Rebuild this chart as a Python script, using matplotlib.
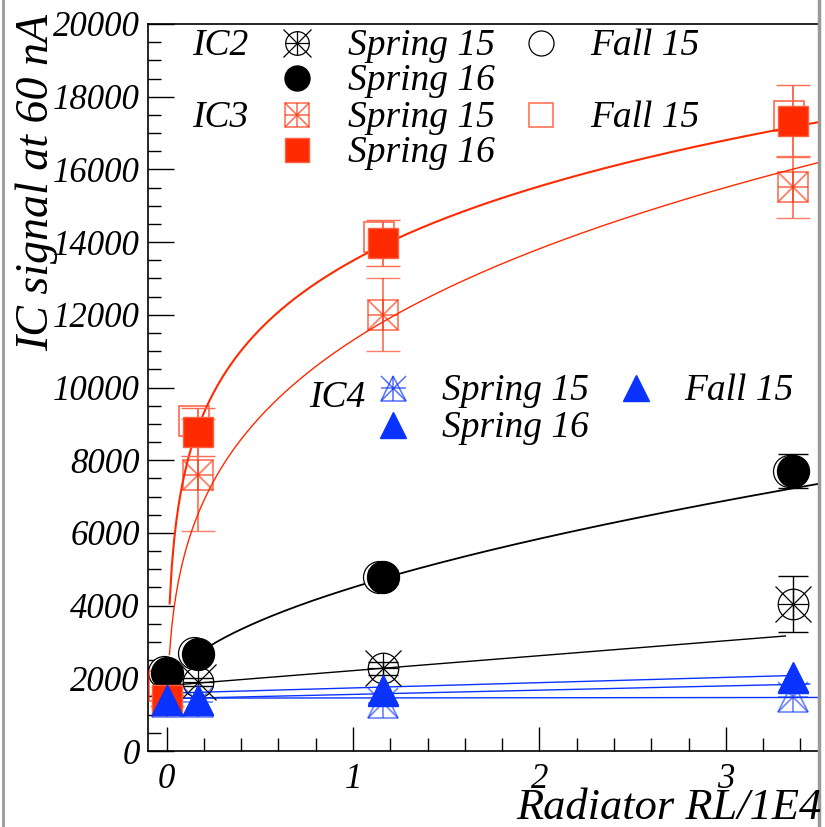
import matplotlib
matplotlib.use("Agg")
import matplotlib.pyplot as plt
import numpy as np
from matplotlib.ticker import MultipleLocator

plt.rcParams['font.family'] = ['Liberation Serif', 'DejaVu Serif']
plt.rcParams['font.style'] = 'italic'

RED = '#ff2a00'
BLUE = '#0a33ff'

# radiator positions (RL/1E4)
x_pts = [0.0, 0.166, 1.16, 3.36]
x_fall = [-0.015, 0.145, 1.14, 3.34]
x_s15 = [0.166, 1.16, 3.36]

# IC2
ic2_s15 = [1900, 2280, 4045]
ic2_s15_err = [120, 180, 780]
ic2_s16 = [2145, 2670, 4790, 7700]
ic2_s16_err = [100, 120, 200, 470]
ic2_f15 = [2170, 2700, 4800, 7700]

# IC3
ic3_s15 = [7590, 12000, 15515]
ic3_s15_err = [1550, 1000, 850]
ic3_s16 = [1400, 8775, 13975, 17330]
ic3_s16_err = [150, 650, 630, 1000]
ic3_f15 = [1790, 9080, 14140, 17470]

# IC4
ic4_s15 = [1350, 1350, 1320, 1485]
ic4_f15 = [1400, 1400, 1650, 2000]
ic4_s16 = [1400, 1400, 1680, 2035]

# fit curves  y = a + b*x^c  on [x0, x1]
fits = [
    # a, b, c, x0, x1, color, lw
    (-12310, 25800, 0.11, 0.016, 3.5, RED, 1.5),
    (-2000, 13300, 0.25, 0.015, 3.5, RED, 1.0),
    (1550, 2950, 0.54, 0.166, 3.5, 'black', 1.3),
    (1800, 411, 1.0, 0.0, 3.32, 'black', 1.0),
    (1590, 145, 1.0, 0.0, 3.36, BLUE, 1.0),
    (1440, 117, 1.0, 0.0, 3.45, BLUE, 1.0),
    (1455, 5, 1.0, 0.0, 3.5, BLUE, 1.0),
]

W, H = 825, 827
fig = plt.figure(figsize=(W / 100, H / 100), dpi=100)
ax = fig.add_axes([148 / W, 1 - 751 / H, (819 - 148) / W, (751 - 24) / H])
ax.set_xlim(-0.1, 3.5)
ax.set_ylim(0, 20000)


def asterisk(ax_, x, y, base, color, size, alpha=1.0, mew=0.9, spoke=1.0, z=3):
    kw = dict(linestyle='none', color=color, alpha=alpha, mew=mew, zorder=z)
    ax_.plot(x, y, marker=base, ms=size, mfc='none', mec=color, **kw)
    ax_.plot(x, y, marker='+', ms=size, **kw)
    ax_.plot(x, y, marker='x', ms=size * spoke, **kw)


# fit lines
for a, b, c, x0, x1, col, lw in fits:
    xx = np.linspace(x0, x1, 300)
    ax.plot(xx, a + b * xx ** c, color=col, lw=lw, zorder=2)

# IC2
ax.plot(x_fall, ic2_f15, 'o', ms=23, mfc='white', mec='black', mew=0.9, zorder=3)
ax.errorbar(x_s15, ic2_s15, yerr=ic2_s15_err, fmt='none', ecolor='black',
            elinewidth=1, capsize=11, zorder=3)
asterisk(ax, x_s15, ic2_s15, 'o', 'black', 22, spoke=1.15)
ax.errorbar(x_pts, ic2_s16, yerr=ic2_s16_err, fmt='o', color='black', ms=23,
            elinewidth=1, capsize=11, zorder=4)

# IC3
ax.plot(x_fall, ic3_f15, 's', ms=21, mfc='none', mec=RED, mew=1.2, alpha=0.7, zorder=3)
ax.errorbar(x_s15, ic3_s15, yerr=ic3_s15_err, fmt='none', ecolor=RED, alpha=0.6,
            elinewidth=1.4, capsize=12, zorder=3)
asterisk(ax, x_s15, ic3_s15, 's', RED, 21, alpha=0.6, mew=1.3)
ax.errorbar(x_pts, ic3_s16, yerr=ic3_s16_err, fmt='s', color=RED, ms=21,
            mec='#ff6040', mew=1, elinewidth=1.4, capsize=12, ecolor='#ff6a50', zorder=4)

# IC4
asterisk(ax, x_pts, ic4_s15, '^', BLUE, 21, alpha=0.6, mew=1.2, z=4)
ax.plot(x_pts, ic4_f15, '^', ms=22, color=BLUE, mec=BLUE, zorder=5)
ax.plot(x_pts, ic4_s16, '^', ms=22, color=BLUE, mec=BLUE, zorder=5)

# axes styling
ax.xaxis.set_major_locator(MultipleLocator(1))
ax.xaxis.set_minor_locator(MultipleLocator(0.2))
ax.yaxis.set_major_locator(MultipleLocator(2000))
ax.yaxis.set_minor_locator(MultipleLocator(500))
ax.tick_params(axis='both', which='both', direction='in', top=False, right=False,
               width=1, color='black')
ax.tick_params(axis='y', which='major', length=19, labelsize=25, pad=6)
ax.tick_params(axis='y', which='minor', length=9.5)
ax.tick_params(axis='x', which='major', length=17, labelsize=25, pad=9)
ax.tick_params(axis='x', which='minor', length=9.5)
for s in ['left', 'bottom', 'top']:
    ax.spines[s].set_linewidth(1.2)
ax.spines['right'].set_visible(False)

# overlay in pixel coordinates for titles, legends, canvas border
lax = fig.add_axes([0, 0, 1, 1], facecolor='none')
lax.set_xlim(0, W)
lax.set_ylim(H, 0)
lax.axis('off')

lax.text(37, 14, 'IC signal at 60 nA', rotation=90, ha='center', va='top', fontsize=33)
lax.text(821, 819, 'Radiator RL/1E4', ha='right', va='baseline', fontsize=32)

lax.plot([3, 3], [0, H], color='#999999', lw=2)
lax.plot([819, 819], [0, H], color='#999999', lw=2.5)

ft = 27


def ltext(x, y, s):
    lax.text(x, y + 12, s, ha='left', va='baseline', fontsize=ft)


ltext(192, 43, 'IC2')
asterisk(lax, [297], [43], 'o', 'black', 17, spoke=1.15)
ltext(348, 43, 'Spring 15')
lax.plot([541], [43], 'o', ms=18, mfc='none', mec='black', mew=0.9)
ltext(590, 43, 'Fall 15')
lax.plot([297], [78], 'o', ms=18, color='black')
ltext(348, 78, 'Spring 16')

ltext(192, 115, 'IC3')
asterisk(lax, [297], [115], 's', RED, 17, alpha=0.7, mew=1.1)
ltext(348, 115, 'Spring 15')
lax.plot([541], [115], 's', ms=17, mfc='none', mec=RED, mew=1.1, alpha=0.7)
ltext(590, 115, 'Fall 15')
lax.plot([297], [150], 's', ms=17, color=RED, mec='#ff6040')
ltext(348, 150, 'Spring 16')

ltext(309, 395, 'IC4')
asterisk(lax, [393], [388], '^', BLUE, 18, alpha=0.7, mew=1.1)
ltext(442, 388, 'Spring 15')
lax.plot([636], [388], '^', ms=19, color=BLUE)
ltext(684, 388, 'Fall 15')
lax.plot([393], [425], '^', ms=19, color=BLUE)
ltext(442, 425, 'Spring 16')

fig.savefig('out.png', dpi=100)
